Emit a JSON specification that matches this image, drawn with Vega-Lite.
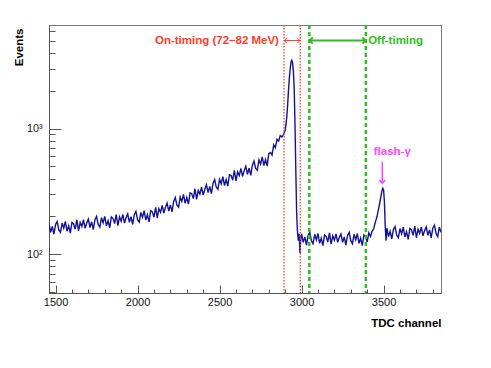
{
  "$schema": "https://vega.github.io/schema/vega-lite/v6.json",
  "width": 392,
  "height": 268,
  "autosize": "none",
  "padding": {"left": 49, "top": 25, "right": 50, "bottom": 75},
  "background": "white",
  "config": {
    "view": {"stroke": "#777", "strokeWidth": 1},
    "axis": {
      "grid": false,
      "domainColor": "#555",
      "tickColor": "#555",
      "labelFont": "Liberation Sans",
      "labelColor": "#111",
      "labelOverlap": false,
      "titleFont": "Liberation Sans",
      "titleColor": "#000",
      "titleFontWeight": "bold",
      "titleFontSize": 11.5
    }
  },
  "datasets": {
    "hist": [
      {"x":1460,"y":174},{"x":1470,"y":149},{"x":1480,"y":166},{"x":1490,"y":144},{"x":1500,"y":172},{"x":1510,"y":182},{"x":1520,"y":156},{"x":1530,"y":149},{"x":1540,"y":177},{"x":1550,"y":161},
      {"x":1560,"y":182},{"x":1570,"y":152},{"x":1580,"y":168},{"x":1590,"y":147},{"x":1600,"y":179},{"x":1610,"y":174},{"x":1620,"y":158},{"x":1630,"y":188},{"x":1640,"y":153},{"x":1650,"y":179},
      {"x":1660,"y":166},{"x":1670,"y":188},{"x":1680,"y":161},{"x":1690,"y":177},{"x":1700,"y":190},{"x":1710,"y":163},{"x":1720,"y":181},{"x":1730,"y":157},{"x":1740,"y":188},{"x":1750,"y":200},
      {"x":1760,"y":172},{"x":1770,"y":164},{"x":1780,"y":195},{"x":1790,"y":178},{"x":1800,"y":200},{"x":1810,"y":168},{"x":1820,"y":185},{"x":1830,"y":162},{"x":1840,"y":198},{"x":1850,"y":193},
      {"x":1860,"y":175},{"x":1870,"y":207},{"x":1880,"y":169},{"x":1890,"y":198},{"x":1900,"y":183},{"x":1910,"y":207},{"x":1920,"y":177},{"x":1930,"y":195},{"x":1940,"y":209},{"x":1950,"y":179},
      {"x":1960,"y":199},{"x":1970,"y":173},{"x":1980,"y":206},{"x":1990,"y":219},{"x":2000,"y":188},{"x":2010,"y":180},{"x":2020,"y":215},{"x":2030,"y":196},{"x":2040,"y":222},{"x":2050,"y":187},
      {"x":2060,"y":206},{"x":2070,"y":181},{"x":2080,"y":222},{"x":2090,"y":217},{"x":2100,"y":197},{"x":2110,"y":236},{"x":2120,"y":194},{"x":2130,"y":230},{"x":2140,"y":215},{"x":2150,"y":245},
      {"x":2160,"y":212},{"x":2170,"y":236},{"x":2180,"y":255},{"x":2190,"y":220},{"x":2200,"y":247},{"x":2210,"y":217},{"x":2220,"y":263},{"x":2230,"y":282},{"x":2240,"y":246},{"x":2250,"y":237},
      {"x":2260,"y":285},{"x":2270,"y":263},{"x":2280,"y":299},{"x":2290,"y":254},{"x":2300,"y":283},{"x":2310,"y":250},{"x":2320,"y":308},{"x":2330,"y":303},{"x":2340,"y":277},{"x":2350,"y":332},
      {"x":2360,"y":273},{"x":2370,"y":322},{"x":2380,"y":301},{"x":2390,"y":342},{"x":2400,"y":296},{"x":2410,"y":329},{"x":2420,"y":357},{"x":2430,"y":309},{"x":2440,"y":347},{"x":2450,"y":304},
      {"x":2460,"y":367},{"x":2470,"y":393},{"x":2480,"y":341},{"x":2490,"y":328},{"x":2500,"y":394},{"x":2510,"y":364},{"x":2520,"y":415},{"x":2530,"y":352},{"x":2540,"y":393},{"x":2550,"y":348},
      {"x":2560,"y":429},{"x":2570,"y":423},{"x":2580,"y":388},{"x":2590,"y":465},{"x":2600,"y":383},{"x":2610,"y":452},{"x":2620,"y":423},{"x":2630,"y":482},{"x":2640,"y":416},{"x":2650,"y":463},
      {"x":2660,"y":501},{"x":2670,"y":432},{"x":2680,"y":485},{"x":2690,"y":424},{"x":2700,"y":511},{"x":2710,"y":551},{"x":2720,"y":482},{"x":2730,"y":466},{"x":2740,"y":564},{"x":2750,"y":521},
      {"x":2760,"y":596},{"x":2770,"y":508},{"x":2780,"y":568},{"x":2790,"y":503},{"x":2800,"y":631},{"x":2810,"y":645},{"x":2820,"y":616},{"x":2830,"y":742},{"x":2840,"y":703},{"x":2850,"y":822},
      {"x":2860,"y":795},{"x":2870,"y":881},{"x":2880,"y":858},{"x":2890,"y":900},{"x":2895,"y":930},{"x":2900,"y":970},{"x":2905,"y":1080},{"x":2910,"y":1250},{"x":2915,"y":1550},{"x":2920,"y":2000},
      {"x":2925,"y":2500},{"x":2930,"y":2950},{"x":2935,"y":3350},{"x":2940,"y":3500},{"x":2945,"y":3350},{"x":2950,"y":2850},{"x":2955,"y":2100},{"x":2960,"y":1050},{"x":2965,"y":450},{"x":2970,"y":210},
      {"x":2975,"y":150},{"x":2980,"y":128},{"x":2985,"y":145},{"x":2990,"y":102},{"x":2995,"y":132},{"x":3000,"y":145},{"x":3010,"y":124},{"x":3020,"y":137},{"x":3030,"y":118},{"x":3040,"y":141},
      {"x":3050,"y":149},{"x":3060,"y":128},{"x":3070,"y":121},{"x":3080,"y":144},{"x":3090,"y":130},{"x":3100,"y":146},{"x":3110,"y":122},{"x":3120,"y":134},{"x":3130,"y":117},{"x":3140,"y":142},
      {"x":3150,"y":138},{"x":3160,"y":125},{"x":3170,"y":148},{"x":3180,"y":120},{"x":3190,"y":140},{"x":3200,"y":129},{"x":3210,"y":145},{"x":3220,"y":124},{"x":3230,"y":136},{"x":3240,"y":145},
      {"x":3250,"y":124},{"x":3260,"y":137},{"x":3270,"y":118},{"x":3280,"y":141},{"x":3290,"y":149},{"x":3300,"y":128},{"x":3310,"y":121},{"x":3320,"y":144},{"x":3330,"y":130},{"x":3340,"y":146},
      {"x":3350,"y":122},{"x":3360,"y":134},{"x":3370,"y":117},{"x":3380,"y":142},{"x":3390,"y":138},{"x":3400,"y":125},{"x":3410,"y":148},{"x":3420,"y":138},{"x":3430,"y":152},{"x":3440,"y":160},
      {"x":3450,"y":180},{"x":3460,"y":200},{"x":3470,"y":232},{"x":3480,"y":270},{"x":3490,"y":320},{"x":3495,"y":335},{"x":3500,"y":325},{"x":3505,"y":260},{"x":3510,"y":165},{"x":3515,"y":128},
      {"x":3520,"y":161},{"x":3530,"y":138},{"x":3540,"y":152},{"x":3550,"y":132},{"x":3560,"y":157},{"x":3570,"y":166},{"x":3580,"y":142},{"x":3590,"y":135},{"x":3600,"y":160},{"x":3610,"y":145},
      {"x":3620,"y":164},{"x":3630,"y":137},{"x":3640,"y":151},{"x":3650,"y":131},{"x":3660,"y":160},{"x":3670,"y":156},{"x":3680,"y":141},{"x":3690,"y":167},{"x":3700,"y":135},{"x":3710,"y":158},
      {"x":3720,"y":146},{"x":3730,"y":164},{"x":3740,"y":140},{"x":3750,"y":154},{"x":3760,"y":165},{"x":3770,"y":141},{"x":3780,"y":156},{"x":3790,"y":135},{"x":3800,"y":161},{"x":3810,"y":170},
      {"x":3820,"y":146},{"x":3830,"y":138},{"x":3840,"y":164},{"x":3850,"y":149}
    ],
    "cuts": [
      {"x": 2893, "window": "on"},
      {"x": 2992, "window": "on"},
      {"x": 3047, "window": "off"},
      {"x": 3392, "window": "off"}
    ],
    "arrows": [
      {"x": 2895, "x2": 2990, "y": 5036, "window": "on"},
      {"x": 3050, "x2": 3389, "y": 5036, "window": "off"}
    ],
    "labels": [
      {"x": 2862, "y": 5036, "text": "On-timing (72–82 MeV)", "window": "on"},
      {"x": 3406, "y": 5036, "text": "Off-timing", "window": "off"},
      {"x": 3553, "y": 649, "text": "flash-γ", "window": "flash"}
    ],
    "flash": [
      {"x": 3492, "y": 545, "y2": 368}
    ]
  },
  "layer": [
    {
      "data": {"name": "hist"},
      "mark": {"type": "line", "color": "#121296", "strokeWidth": 1.4, "clip": true},
      "encoding": {
        "x": {
          "field": "x", "type": "quantitative",
          "scale": {"domain": [1460, 3850], "nice": false, "zero": false},
          "axis": {
            "title": "TDC channel",
            "values": [1500,1600,1700,1800,1900,2000,2100,2200,2300,2400,2500,2600,2700,2800,2900,3000,3100,3200,3300,3400,3500,3600,3700,3800],
            "tickCount": 100,
            "format": "d",
            "labelOverlap": false,
            "labelBound": false,
            "labelFlush": false,
            "labelExpr": "(datum.value === 1500 || datum.value === 2000 || datum.value === 2500 || datum.value === 3000 || datum.value === 3500) ? datum.label : ''",
            "tickSize": {"condition": {"test": "datum.value % 500 === 0", "value": -8}, "value": -4},
            "labelPadding": 11,
            "labelFontSize": 11,
            "labelBaseline": "top",
            "titleAnchor": "end",
            "titleAlign": "right",
            "titleBaseline": "middle",
            "titleX": 392,
            "titleY": 30
          }
        },
        "y": {
          "field": "y", "type": "quantitative",
          "scale": {"type": "log", "domain": [49, 6700], "nice": false},
          "axis": {
            "title": "Events",
            "values": [50,60,70,80,90,100,200,300,400,500,600,700,800,900,1000,2000,3000,4000,5000,6000],
            "tickCount": 100,
            "labelOverlap": false,
            "labelExpr": "datum.value === 100 ? '10²' : (datum.value === 1000 ? '10³' : '')",
            "tickSize": {"condition": {"test": "datum.value === 100 || datum.value === 1000", "value": -12}, "value": -6},
            "labelPadding": 19,
            "labelFontSize": 10.8,
            "labelBaseline": "middle",
            "titleAngle": 270,
            "titleAnchor": "end",
            "titleAlign": "right",
            "titleBaseline": "middle",
            "titleX": -30,
            "titleY": 3
          }
        }
      }
    },
    {
      "data": {"name": "cuts"},
      "transform": [{"filter": "datum.window === 'on'"}],
      "mark": {"type": "rule", "color": "#ff3b2b", "strokeWidth": 1.3, "strokeDash": [1.5, 1.5]},
      "encoding": {"x": {"field": "x", "type": "quantitative"}}
    },
    {
      "data": {"name": "cuts"},
      "transform": [{"filter": "datum.window === 'off'"}],
      "mark": {"type": "rule", "color": "#2fbf22", "strokeWidth": 2.5, "strokeDash": [4, 3]},
      "encoding": {"x": {"field": "x", "type": "quantitative"}}
    },
    {
      "data": {"name": "arrows"},
      "transform": [{"filter": "datum.window === 'on'"}],
      "mark": {"type": "rule", "color": "#ff3b2b", "strokeWidth": 1},
      "encoding": {
        "x": {"field": "x", "type": "quantitative"},
        "x2": {"field": "x2"},
        "y": {"field": "y", "type": "quantitative"}
      }
    },
    {
      "data": {"name": "arrows"},
      "transform": [{"filter": "datum.window === 'on'"}],
      "mark": {"type": "point", "shape": "M1,-1L0,0L1,1", "filled": false, "color": "#ff3b2b", "strokeWidth": 1, "size": 25, "opacity": 1},
      "encoding": {
        "x": {"field": "x", "type": "quantitative"},
        "y": {"field": "y", "type": "quantitative"}
      }
    },
    {
      "data": {"name": "arrows"},
      "transform": [{"filter": "datum.window === 'on'"}],
      "mark": {"type": "point", "shape": "M-1,-1L0,0L-1,1", "filled": false, "color": "#ff3b2b", "strokeWidth": 1, "size": 25, "opacity": 1},
      "encoding": {
        "x": {"field": "x2", "type": "quantitative"},
        "y": {"field": "y", "type": "quantitative"}
      }
    },
    {
      "data": {"name": "arrows"},
      "transform": [{"filter": "datum.window === 'off'"}],
      "mark": {"type": "rule", "color": "#2fbf22", "strokeWidth": 2},
      "encoding": {
        "x": {"field": "x", "type": "quantitative"},
        "x2": {"field": "x2"},
        "y": {"field": "y", "type": "quantitative"}
      }
    },
    {
      "data": {"name": "arrows"},
      "transform": [{"filter": "datum.window === 'off'"}],
      "mark": {"type": "point", "shape": "M1,-1L0,0L1,1", "filled": false, "color": "#2fbf22", "strokeWidth": 2, "size": 36, "opacity": 1},
      "encoding": {
        "x": {"field": "x", "type": "quantitative"},
        "y": {"field": "y", "type": "quantitative"}
      }
    },
    {
      "data": {"name": "arrows"},
      "transform": [{"filter": "datum.window === 'off'"}],
      "mark": {"type": "point", "shape": "M-1,-1L0,0L-1,1", "filled": false, "color": "#2fbf22", "strokeWidth": 2, "size": 36, "opacity": 1},
      "encoding": {
        "x": {"field": "x2", "type": "quantitative"},
        "y": {"field": "y", "type": "quantitative"}
      }
    },
    {
      "data": {"name": "flash"},
      "mark": {"type": "rule", "color": "#ff44ff", "strokeWidth": 1.5},
      "encoding": {
        "x": {"field": "x", "type": "quantitative"},
        "y": {"field": "y", "type": "quantitative"},
        "y2": {"field": "y2"}
      }
    },
    {
      "data": {"name": "flash"},
      "mark": {"type": "point", "shape": "M-1,-1L0,0L1,-1", "filled": false, "color": "#ff44ff", "strokeWidth": 1.5, "size": 36, "opacity": 1},
      "encoding": {
        "x": {"field": "x", "type": "quantitative"},
        "y": {"field": "y2", "type": "quantitative"}
      }
    },
    {
      "data": {"name": "labels"},
      "transform": [{"filter": "datum.window === 'on'"}],
      "mark": {"type": "text", "color": "#ff3b2b", "font": "Liberation Sans", "fontWeight": "bold", "fontSize": 11.5, "align": "right", "baseline": "middle"},
      "encoding": {
        "x": {"field": "x", "type": "quantitative"},
        "y": {"field": "y", "type": "quantitative"},
        "text": {"field": "text"}
      }
    },
    {
      "data": {"name": "labels"},
      "transform": [{"filter": "datum.window === 'off'"}],
      "mark": {"type": "text", "color": "#2fbf22", "font": "Liberation Sans", "fontWeight": "bold", "fontSize": 11.5, "align": "left", "baseline": "middle"},
      "encoding": {
        "x": {"field": "x", "type": "quantitative"},
        "y": {"field": "y", "type": "quantitative"},
        "text": {"field": "text"}
      }
    },
    {
      "data": {"name": "labels"},
      "transform": [{"filter": "datum.window === 'flash'"}],
      "mark": {"type": "text", "color": "#ff44ff", "font": "Liberation Sans", "fontWeight": "bold", "fontSize": 11.5, "align": "center", "baseline": "middle"},
      "encoding": {
        "x": {"field": "x", "type": "quantitative"},
        "y": {"field": "y", "type": "quantitative"},
        "text": {"field": "text"}
      }
    }
  ]
}
